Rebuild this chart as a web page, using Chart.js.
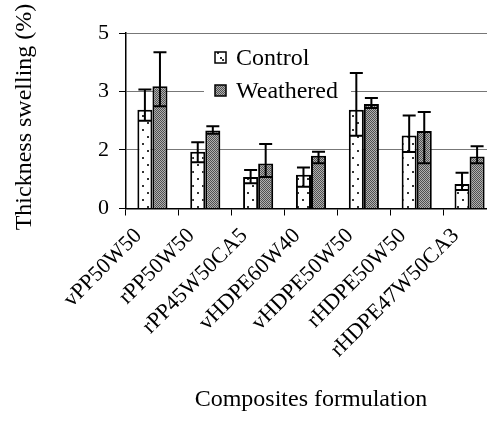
<!DOCTYPE html>
<html>
<head>
<meta charset="utf-8">
<script src="https://cdn.jsdelivr.net/npm/chart.js@4.4.0/dist/chart.umd.min.js"></script>
<style>
  html, body { margin: 0; padding: 0; background: #fff; overflow: hidden; }
  #wrap { width: 487px; height: 421px; overflow: hidden; }
</style>
</head>
<body>
<div id="wrap"><canvas id="chart" width="500" height="421"></canvas></div>
<script>
// ---- data ----
const categories = ["vPP50W50", "rPP50W50", "rPP45W50CA5", "vHDPE60W40", "vHDPE50W50", "rHDPE50W50", "rHDPE47W50CA3"];
const control = [2.81, 1.62, 0.90, 0.96, 2.81, 2.08, 0.70];
const controlErrUp = [0.58, 0.27, 0.20, 0.21, 1.05, 0.57, 0.32];
const controlErrDown = [0.31, 0.30, 0.18, 0.34, 0.74, 0.47, 0.17];
const weathered = [3.48, 2.22, 1.28, 1.50, 2.98, 2.21, 1.48];
const weatheredErrUp = [0.97, 0.12, 0.56, 0.12, 0.17, 0.54, 0.29];
const weatheredErrDown = [0.57, 0.09, 0.38, 0.21, 0.12, 0.92, 0.19];
const yTickValues = [0, 1.6667, 3.3333, 5];
const yTickLabels = ["0", "2", "3", "5"];
const seriesNames = ["Control", "Weathered"];

const FONT = "'Liberation Serif', 'Times New Roman', serif";

// ---- fill patterns ----
function dotPattern() {
  const c = document.createElement("canvas");
  c.width = 10; c.height = 14;
  const g = c.getContext("2d");
  g.fillStyle = "#fff";
  g.fillRect(0, 0, 10, 14);
  g.fillStyle = "#333";
  g.fillRect(2, 3, 2, 2);
  g.fillRect(7, 10, 2, 2);
  return g.createPattern(c, "repeat");
}

function checkPattern() {
  const c = document.createElement("canvas");
  c.width = 2; c.height = 2;
  const g = c.getContext("2d");
  g.fillStyle = "#b0b0b0";
  g.fillRect(0, 0, 2, 2);
  g.fillStyle = "#505050";
  g.fillRect(0, 0, 1, 1);
  g.fillRect(1, 1, 1, 1);
  return g.createPattern(c, "repeat");
}

const fills = [dotPattern(), checkPattern()];

// ---- error bars ----
const errorBars = {
  id: "errorBars",
  afterDatasetsDraw(chart) {
    const ctx = chart.ctx;
    const y = chart.scales.y;
    const errs = [[controlErrUp, controlErrDown], [weatheredErrUp, weatheredErrDown]];
    ctx.save();
    ctx.strokeStyle = "#000";
    ctx.lineWidth = 2;
    chart.data.datasets.forEach((ds, i) => {
      const meta = chart.getDatasetMeta(i);
      meta.data.forEach((bar, j) => {
        const v = ds.data[j];
        const top = y.getPixelForValue(v + errs[i][0][j]);
        const bot = y.getPixelForValue(v - errs[i][1][j]);
        const half = 6.5;
        ctx.beginPath();
        ctx.moveTo(bar.x, top);
        ctx.lineTo(bar.x, bot);
        ctx.moveTo(bar.x - half, top);
        ctx.lineTo(bar.x + half, top);
        ctx.moveTo(bar.x - half, bot);
        ctx.lineTo(bar.x + half, bot);
        ctx.stroke();
      });
    });
    ctx.restore();
  },
};

// ---- legend inside plot ----
const boxLegend = {
  id: "boxLegend",
  beforeDatasetsDraw(chart) {
    const ctx = chart.ctx;
    ctx.save();
    ctx.fillStyle = "#fff";
    ctx.fillRect(204, 40, 147, 62);
    ctx.font = "24px " + FONT;
    ctx.textBaseline = "alphabetic";
    ctx.textAlign = "left";
    seriesNames.forEach((name, i) => {
      const top = 52 + i * 33;
      ctx.fillStyle = fills[i];
      ctx.fillRect(215, top, 11, 11);
      if (i === 0) {
        ctx.fillStyle = "#333";
        ctx.fillRect(220, top + 5, 2, 2);
      }
      ctx.strokeStyle = "#000";
      ctx.lineWidth = 1.5;
      ctx.strokeRect(215, top, 11, 11);
      ctx.fillStyle = "#000";
      ctx.fillText(name, 236, top + 13);
    });
    ctx.restore();
  },
};

// ---- rotated category labels and axis titles ----
const axisText = {
  id: "axisText",
  afterDraw(chart) {
    const ctx = chart.ctx;
    const x = chart.scales.x;
    const base = chart.chartArea.bottom;
    ctx.save();
    ctx.fillStyle = "#000";
    ctx.font = "22px " + FONT;
    ctx.textAlign = "right";
    ctx.textBaseline = "middle";
    categories.forEach((name, i) => {
      ctx.save();
      ctx.translate(x.getPixelForTick(i) - 14, base + 24);
      ctx.rotate(-Math.PI / 4);
      ctx.fillText(name, 0, 0);
      ctx.restore();
    });
    ctx.restore();

    ctx.save();
    ctx.fillStyle = "#000";
    ctx.font = "24px " + FONT;
    ctx.textAlign = "center";
    ctx.textBaseline = "middle";
    ctx.translate(25, 117);
    ctx.rotate(-Math.PI / 2);
    ctx.fillText("Thickness swelling (%)", 0, 0);
    ctx.restore();

    ctx.save();
    ctx.fillStyle = "#000";
    ctx.font = "24px " + FONT;
    ctx.textAlign = "center";
    ctx.textBaseline = "middle";
    ctx.fillText("Composites formulation", 311, 400);
    ctx.restore();
  },
};

new Chart(document.getElementById("chart"), {
  type: "bar",
  data: {
    labels: categories,
    datasets: [
      { label: seriesNames[0], data: control, backgroundColor: fills[0], borderColor: "#000", borderWidth: 2 },
      { label: seriesNames[1], data: weathered, backgroundColor: fills[1], borderColor: "#000", borderWidth: 2 },
    ],
  },
  options: {
    responsive: false,
    animation: false,
    devicePixelRatio: 1,
    layout: { padding: { top: 33, right: 4, left: 0, bottom: 0 } },
    datasets: { bar: { barPercentage: 1, categoryPercentage: 0.57 } },
    plugins: { legend: { display: false }, tooltip: { enabled: false } },
    scales: {
      x: {
        offset: true,
        grid: { offset: true, drawOnChartArea: false, color: "#000", tickLength: 7, lineWidth: 1 },
        border: { color: "#000", width: 1.5 },
        ticks: { display: false },
        afterFit: (s) => { s.height = 421 - 208.5; },
      },
      y: {
        min: 0,
        max: 5,
        afterBuildTicks: (s) => { s.ticks = yTickValues.map((v) => ({ value: v })); },
        grid: { color: "#777", lineWidth: 1, tickColor: "#000", tickLength: 7 },
        border: { color: "#000", width: 1.5 },
        ticks: {
          color: "#000",
          font: { family: FONT, size: 22 },
          padding: 10,
          callback: (v, i) => yTickLabels[i],
        },
        afterFit: (s) => { s.width = 126; },
      },
    },
  },
  plugins: [errorBars, boxLegend, axisText],
});
</script>
</body>
</html>
